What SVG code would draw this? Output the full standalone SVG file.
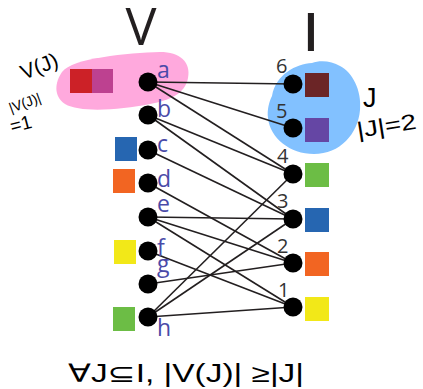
<svg xmlns="http://www.w3.org/2000/svg" width="423" height="389" viewBox="0 0 423 389">
  <style>
    .node { fill: #000; }
    .lbl { font-family: "Open Sans", "Noto Sans", sans-serif; font-size: 23px; fill: #4a4aa8; }
    .num { font-family: "Open Sans", "Noto Sans", sans-serif; font-size: 20px; fill: #333; }
    .title { font-family: "Open Sans", "Noto Sans", sans-serif; font-size: 52px; fill: #231f20; }
    .hand { font-family: "Liberation Sans", "DejaVu Sans", sans-serif; fill: #000; }
    .edge { stroke: #231f20; stroke-width: 1.6; fill: none; }
  </style>

  <!-- highlighted sets -->
  <path d="M 62,72 C 72,58 128,53 160,52 C 180,52 191,62 188,78 C 185,94 170,100 150,104 C 120,110 80,113 65,104 C 53,96 55,82 62,72 Z" fill="#ffa9dd"/>
  <path d="M 272,96 C 276,74 296,64 312,63 C 320,60 332,61 340,66 C 352,72 362,90 360,110 C 358,134 340,154 314,154 C 290,154 270,138 268,118 C 267,110 269,102 272,96 Z" fill="#82c1ff"/>

  <!-- titles -->
  <text class="title" x="141" y="45" text-anchor="middle">V</text>
  <text class="title" x="311" y="51" text-anchor="middle" font-weight="600">I</text>

  <!-- connectors -->
  <g id="edges">
    <line class="edge" x1="148" y1="82" x2="293" y2="84"/>
    <line class="edge" x1="148" y1="82" x2="293" y2="128"/>
    <line class="edge" x1="148" y1="82" x2="293" y2="174"/>
    <line class="edge" x1="148" y1="115" x2="293" y2="174"/>
    <line class="edge" x1="148" y1="115" x2="293" y2="219"/>
    <line class="edge" x1="148" y1="150" x2="293" y2="219"/>
    <line class="edge" x1="148" y1="183" x2="293" y2="263"/>
    <line class="edge" x1="148" y1="217" x2="293" y2="219"/>
    <line class="edge" x1="148" y1="217" x2="293" y2="263"/>
    <line class="edge" x1="148" y1="217" x2="293" y2="307"/>
    <line class="edge" x1="148" y1="251" x2="293" y2="307"/>
    <line class="edge" x1="148" y1="284" x2="293" y2="263"/>
    <line class="edge" x1="148" y1="317" x2="293" y2="174"/>
    <line class="edge" x1="148" y1="317" x2="293" y2="219"/>
    <line class="edge" x1="148" y1="317" x2="293" y2="307"/>
  </g>

  <!-- left nodes -->
  <g id="node-a"><rect x="70" y="69" width="22" height="24" fill="#cc2127"/><rect x="92" y="69" width="21" height="24" fill="#bd4190"/><circle class="node" cx="148" cy="82" r="9.5"/><text class="lbl" x="157" y="78">a</text></g>
  <g id="node-b"><circle class="node" cx="148" cy="115" r="9.5"/><text class="lbl" x="157" y="117">b</text></g>
  <g id="node-c"><rect x="115" y="137" width="22" height="24" fill="#2666b1"/><circle class="node" cx="148" cy="150" r="9.5"/><text class="lbl" x="157" y="152">c</text></g>
  <g id="node-d"><rect x="113" y="169" width="22" height="24" fill="#f26522"/><circle class="node" cx="148" cy="183" r="9.5"/><text class="lbl" x="157" y="187">d</text></g>
  <g id="node-e"><circle class="node" cx="148" cy="217" r="9.5"/><text class="lbl" x="157" y="212">e</text></g>
  <g id="node-f"><rect x="114" y="240" width="22" height="24" fill="#f2e818"/><circle class="node" cx="148" cy="251" r="9.5"/><text class="lbl" x="157" y="256">f</text></g>
  <g id="node-g"><circle class="node" cx="148" cy="284" r="9.5"/><text class="lbl" x="157" y="272">g</text></g>
  <g id="node-h"><rect x="113" y="307" width="22" height="24" fill="#6cbd45"/><circle class="node" cx="148" cy="317" r="9.5"/><text class="lbl" x="157" y="336">h</text></g>

  <!-- right nodes -->
  <g id="node-6"><rect x="305" y="73" width="24" height="24" fill="#6b2526"/><circle class="node" cx="293" cy="84" r="9.5"/><text class="num" x="276" y="73">6</text></g>
  <g id="node-5"><rect x="305" y="118" width="24" height="24" fill="#6546a4"/><circle class="node" cx="293" cy="128" r="9.5"/><text class="num" x="276" y="118">5</text></g>
  <g id="node-4"><rect x="305" y="163" width="24" height="24" fill="#6cbd45"/><circle class="node" cx="293" cy="174" r="9.5"/><text class="num" x="277" y="163">4</text></g>
  <g id="node-3"><rect x="305" y="208" width="24" height="24" fill="#2666b1"/><circle class="node" cx="293" cy="219" r="9.5"/><text class="num" x="277" y="208">3</text></g>
  <g id="node-2"><rect x="305" y="252" width="24" height="24" fill="#f26522"/><circle class="node" cx="293" cy="263" r="9.5"/><text class="num" x="277" y="253">2</text></g>
  <g id="node-1"><rect x="305" y="297" width="24" height="24" fill="#f2e818"/><circle class="node" cx="293" cy="307" r="9.5"/><text class="num" x="278" y="297">1</text></g>

  <!-- handwritten notes -->
  <text class="hand" font-size="21" transform="translate(24,80) rotate(-22)">V(J)</text>
  <text class="hand" font-size="14" transform="translate(11,113) rotate(-20)">|V(J)|</text>
  <text class="hand" font-size="19" transform="translate(12,133) rotate(-15)">=1</text>
  <text class="hand" font-size="27" x="363" y="107">J</text>
  <text class="hand" font-size="22" transform="translate(358,138) rotate(-9)" textLength="60" lengthAdjust="spacingAndGlyphs">|J|=2</text>
  <text class="hand" font-size="25" x="68" y="382" textLength="236" lengthAdjust="spacingAndGlyphs">∀J⊆I, |V(J)| ≥|J|</text>
</svg>
